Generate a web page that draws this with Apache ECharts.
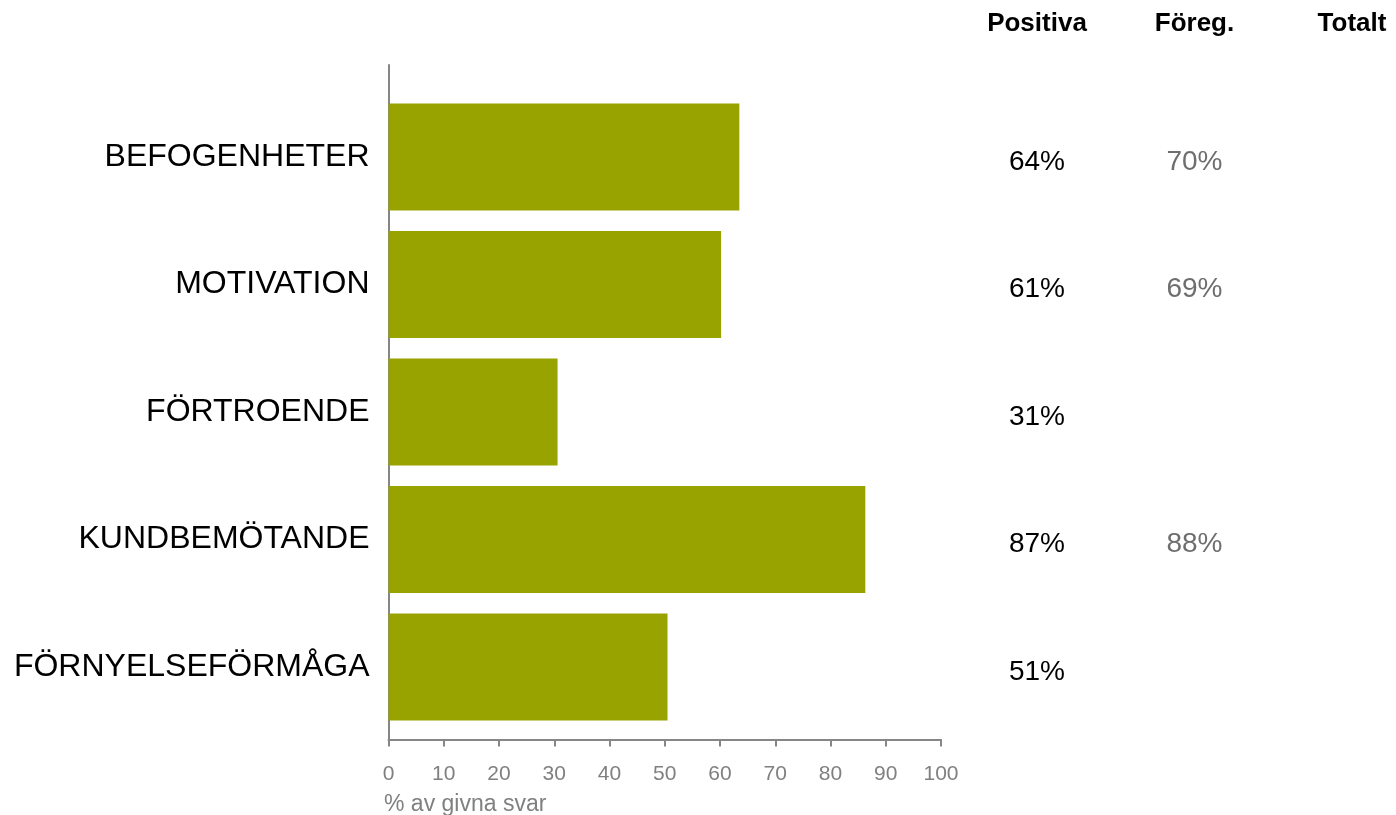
<!DOCTYPE html>
<html>
<head>
<meta charset="utf-8">
<script src="https://cdn.jsdelivr.net/npm/echarts@6/dist/echarts.min.js"></script>
<style>
html,body{margin:0;padding:0;background:#fff;}
#c{width:1396px;height:815px;}
</style>
</head>
<body>
<div id="c"></div>
<script>
const categories = ['BEFOGENHETER', 'MOTIVATION', 'FÖRTROENDE', 'KUNDBEMÖTANDE', 'FÖRNYELSEFÖRMÅGA'];
const barValues = [63.5, 60.2, 30.6, 86.3, 50.5];
const positiva = [64, 61, 31, 87, 51];
const foreg = [70, 69, null, 88, null];
const columns = ['Positiva', 'Föreg.', 'Totalt'];
const axisName = '% av givna svar';

const FONT = '"Liberation Sans", Arial, sans-serif';
const GRAY = '#868686';

function colData(arr, col) {
  const out = [];
  arr.forEach((v, i) => { if (v !== null) out.push([col, i, v]); });
  return out;
}

const chart = echarts.init(document.getElementById('c'), null, {renderer: 'canvas'});
chart.setOption({
  animation: false,
  backgroundColor: '#fff',
  textStyle: {fontFamily: FONT},
  title: {
    text: axisName, left: 379, top: 788,
    textStyle: {fontFamily: FONT, fontSize: 23, fontWeight: 'normal', color: '#808080'}
  },
  grid: [
    {left: 388.5, width: 552.5, top: 93.25, height: 637.5},
    {left: 388.5, width: 552.5, top: 65, height: 674.5},
    {left: 1037, width: 315, top: 93.25, height: 637.5}
  ],
  xAxis: [
    {gridIndex: 0, type: 'value', min: 0, max: 100, show: false},
    {gridIndex: 1, type: 'value', min: 0, max: 100, interval: 10,
      axisLine: {show: true, lineStyle: {color: GRAY, width: 2}},
      axisTick: {show: true, length: 7, lineStyle: {color: GRAY, width: 2}},
      axisLabel: {fontFamily: FONT, fontSize: 21, color: '#808080', margin: 24},
      splitLine: {show: false}},
    {gridIndex: 2, type: 'category', data: columns, position: 'top', boundaryGap: false,
      axisLine: {show: false}, axisTick: {show: false},
      axisLabel: {fontFamily: FONT, fontSize: 26, fontWeight: 'bold', color: '#000', margin: 56, interval: 0}}
  ],
  yAxis: [
    {gridIndex: 0, type: 'category', data: categories, inverse: true,
      axisLine: {show: false}, axisTick: {show: false},
      axisLabel: {fontFamily: FONT, fontSize: 32, color: '#000', margin: 19}},
    {gridIndex: 1, type: 'value', min: 0, max: 1,
      axisLine: {show: true, lineStyle: {color: GRAY, width: 2}},
      axisTick: {show: false}, axisLabel: {show: false}, splitLine: {show: false}},
    {gridIndex: 2, type: 'category', data: categories, inverse: true, show: false}
  ],
  series: [
    {type: 'bar', xAxisIndex: 0, yAxisIndex: 0, data: barValues, barWidth: 107,
      itemStyle: {color: '#98a300'}, silent: true},
    {type: 'scatter', xAxisIndex: 2, yAxisIndex: 2, data: colData(positiva, 0),
      symbolSize: 1, itemStyle: {color: 'transparent', opacity: 1},
      label: {show: true, position: 'inside', offset: [0, 5], fontFamily: FONT, fontSize: 28, color: '#000',
        formatter: p => p.value[2] + '%'}},
    {type: 'scatter', xAxisIndex: 2, yAxisIndex: 2, data: colData(foreg, 1),
      symbolSize: 1, itemStyle: {color: 'transparent', opacity: 1},
      label: {show: true, position: 'inside', offset: [0, 5], fontFamily: FONT, fontSize: 28, color: '#6e6e6e',
        formatter: p => p.value[2] + '%'}}
  ]
});
</script>
</body>
</html>
